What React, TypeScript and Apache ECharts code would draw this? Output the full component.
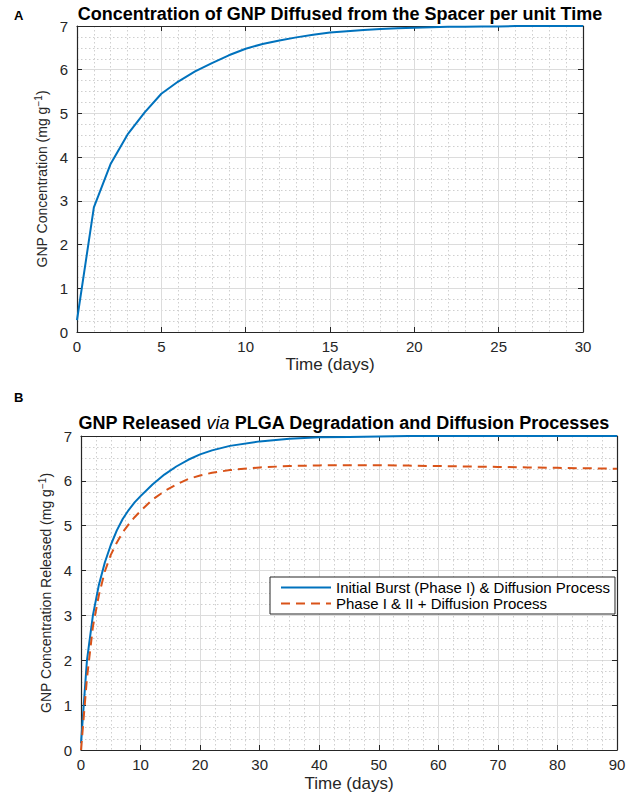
import React, { useEffect, useRef } from "react";
import * as echarts from "echarts";

// ---- Data ----
const diffusionDays = [0, 1, 2, 3, 4, 5, 6, 7, 8, 9, 10, 11, 12, 13, 14, 15, 16, 17, 18, 19, 20, 21, 22, 23, 24, 25, 26, 27, 28, 29, 30];
const diffusionConc = [0.27, 2.85, 3.85, 4.52, 5.02, 5.45, 5.73, 5.96, 6.15, 6.33, 6.48, 6.59, 6.67, 6.74, 6.8, 6.85, 6.88, 6.91, 6.93, 6.95, 6.96, 6.97, 6.98, 6.985, 6.99, 6.99, 7.0, 7.0, 7.0, 7.0, 7.0];

const releaseDays = [0, 1, 2, 3, 4, 5, 6, 7, 8, 9, 10, 12, 14, 16, 18, 20, 22, 25, 30, 35, 40, 45, 50, 55, 60, 65, 70, 75, 80, 85, 90];
const burstDiffusion = [0.15, 2.0, 3.0, 3.68, 4.18, 4.57, 4.89, 5.15, 5.35, 5.52, 5.66, 5.92, 6.14, 6.32, 6.47, 6.59, 6.68, 6.78, 6.88, 6.94, 6.97, 6.98, 6.99, 7.0, 7.0, 7.0, 7.0, 7.0, 7.0, 7.0, 7.0];
const phase12Diffusion = [0.0, 1.6, 2.75, 3.45, 3.98, 4.35, 4.62, 4.85, 5.03, 5.19, 5.33, 5.58, 5.77, 5.92, 6.04, 6.12, 6.18, 6.24, 6.3, 6.33, 6.345, 6.35, 6.35, 6.34, 6.33, 6.32, 6.31, 6.3, 6.29, 6.28, 6.27];

const seriesNames = ["Initial Burst (Phase I) & Diffusion Process", "Phase I & II + Diffusion Process"];
const titleA = "Concentration of GNP Diffused from the Spacer per unit Time";
const titleB = ["GNP Released ", "via", " PLGA Degradation and Diffusion Processes"];
const xName = "Time (days)";
const yNameA = ["GNP Concentration (mg g", "−1", ")"];
const yNameB = ["GNP Concentration Released (mg g", "−1", ")"];

const FONT = '"Liberation Sans", Arial, Helvetica, sans-serif';
const AXIS_COLOR = "#262626";
const BLUE = "#0072BD";
const ORANGE = "#D95319";

const pairs = (xs: number[], ys: number[]) => xs.map((x, i) => [x, ys[i]]);

const majorGrid = { show: true, lineStyle: { color: "#dcdcdc", width: 1 } };
const minorGrid = { show: true, lineStyle: { color: "#cfcfcf", width: 1, type: [1.5, 2.5] } };

const nameRich = {
  n: { fontSize: 14, fontFamily: FONT, color: AXIS_COLOR },
  s: { fontSize: 10, fontFamily: FONT, color: AXIS_COLOR, verticalAlign: "top", lineHeight: 16 },
};

function mainAxis(opts: any) {
  return {
    type: "value",
    gridIndex: opts.grid,
    position: opts.position,
    min: opts.min,
    max: opts.max,
    interval: opts.interval,
    axisLine: { show: true, onZero: false, lineStyle: { color: AXIS_COLOR, width: 1.2 } },
    axisTick: { show: true, inside: true, length: 5, lineStyle: { color: AXIS_COLOR } },
    axisLabel: { fontSize: 15, color: AXIS_COLOR, fontFamily: FONT, margin: opts.labelMargin },
    splitLine: majorGrid,
    minorTick: { show: true, splitNumber: opts.minor, length: 0, lineStyle: { opacity: 0 } },
    minorSplitLine: minorGrid,
    name: opts.name,
    nameLocation: "middle",
    nameGap: opts.nameGap,
    nameTextStyle: opts.nameStyle,
  };
}

function boxAxis(opts: any) {
  return {
    type: "value",
    gridIndex: opts.grid,
    position: opts.position,
    min: opts.min,
    max: opts.max,
    interval: opts.interval,
    axisLine: { show: true, onZero: false, lineStyle: { color: AXIS_COLOR, width: 1.2 } },
    axisTick: { show: true, inside: true, length: 5, lineStyle: { color: AXIS_COLOR } },
    axisLabel: { show: false },
    splitLine: { show: false },
  };
}

export default function App() {
  const ref = useRef<HTMLDivElement>(null);

  useEffect(() => {
    if (!ref.current) return;
    const chart = echarts.init(ref.current, undefined, { renderer: "svg" });
    const option: any = {
      animation: false,
      backgroundColor: "#ffffff",
      title: [
        {
          text: titleA,
          left: 340,
          top: 5,
          padding: 0,
          textAlign: "center",
          textStyle: { fontSize: 18, fontWeight: "bold", color: "#000", fontFamily: FONT },
        },
        {
          text: `{b|${titleB[0]}}{i|${titleB[1]}}{b|${titleB[2]}}`,
          left: 344,
          top: 414,
          padding: 0,
          textAlign: "center",
          textStyle: {
            fontSize: 18,
            fontFamily: FONT,
            rich: {
              b: { fontSize: 18, fontWeight: "bold", color: "#000", fontFamily: FONT },
              i: { fontSize: 18, fontStyle: "italic", fontWeight: "normal", color: "#000", fontFamily: FONT },
            },
          },
        },
      ],
      graphic: [
        { type: "text", left: 14, top: 9, style: { text: "A", fontSize: 13, fontWeight: "bold", fontFamily: FONT, fill: "#000" } },
        { type: "text", left: 14, top: 391, style: { text: "B", fontSize: 13, fontWeight: "bold", fontFamily: FONT, fill: "#000" } },
      ],
      grid: [
        { left: 77, top: 26, width: 506, height: 306, containLabel: false },
        { left: 81, top: 436, width: 536, height: 318, containLabel: false },
      ],
      xAxis: [
        mainAxis({ grid: 0, position: "bottom", min: 0, max: 30, interval: 5, minor: 5, labelMargin: 7, name: xName, nameGap: 24, nameStyle: { fontSize: 17, color: AXIS_COLOR, fontFamily: FONT } }),
        boxAxis({ grid: 0, position: "top", min: 0, max: 30, interval: 5 }),
        mainAxis({ grid: 1, position: "bottom", min: 0, max: 90, interval: 10, minor: 4, labelMargin: 7, name: xName, nameGap: 25, nameStyle: { fontSize: 17, color: AXIS_COLOR, fontFamily: FONT } }),
        boxAxis({ grid: 1, position: "top", min: 0, max: 90, interval: 10 }),
      ],
      yAxis: [
        mainAxis({ grid: 0, position: "left", min: 0, max: 7, interval: 1, minor: 4, labelMargin: 9, name: `{n|${yNameA[0]}}{s|${yNameA[1]}}{n|${yNameA[2]}}`, nameGap: 25, nameStyle: { rich: nameRich } }),
        boxAxis({ grid: 0, position: "right", min: 0, max: 7, interval: 1 }),
        mainAxis({ grid: 1, position: "left", min: 0, max: 7, interval: 1, minor: 4, labelMargin: 9, name: `{n|${yNameB[0]}}{s|${yNameB[1]}}{n|${yNameB[2]}}`, nameGap: 25, nameStyle: { rich: nameRich } }),
        boxAxis({ grid: 1, position: "right", min: 0, max: 7, interval: 1 }),
      ],
      legend: {
        data: seriesNames,
        orient: "vertical",
        left: 270,
        top: 577,
        padding: [3, 5, 3, 10],
        itemGap: 1,
        itemWidth: 50,
        itemHeight: 14,
        borderColor: AXIS_COLOR,
        borderWidth: 1,
        borderRadius: 0,
        backgroundColor: "#ffffff",
        itemStyle: { opacity: 0 },
        textStyle: { fontSize: 15, color: "#000", fontFamily: FONT },
      },
      series: [
        {
          name: "diffusion",
          type: "line",
          xAxisIndex: 0,
          yAxisIndex: 0,
          data: pairs(diffusionDays, diffusionConc),
          showSymbol: false,
          symbol: "none",
          lineStyle: { color: BLUE, width: 2 },
          itemStyle: { color: BLUE },
        },
        {
          name: seriesNames[0],
          type: "line",
          xAxisIndex: 2,
          yAxisIndex: 2,
          data: pairs(releaseDays, burstDiffusion),
          showSymbol: false,
          symbol: "none",
          lineStyle: { color: BLUE, width: 2 },
          itemStyle: { color: BLUE },
        },
        {
          name: seriesNames[1],
          type: "line",
          xAxisIndex: 2,
          yAxisIndex: 2,
          data: pairs(releaseDays, phase12Diffusion),
          showSymbol: false,
          symbol: "none",
          lineStyle: { color: ORANGE, width: 2, type: [9, 6] },
          itemStyle: { color: ORANGE },
        },
      ],
    };
    chart.setOption(option);
    return () => chart.dispose();
  }, []);

  return <div ref={ref} style={{ position: "absolute", left: 0, top: 0, width: 636, height: 793 }} />;
}
